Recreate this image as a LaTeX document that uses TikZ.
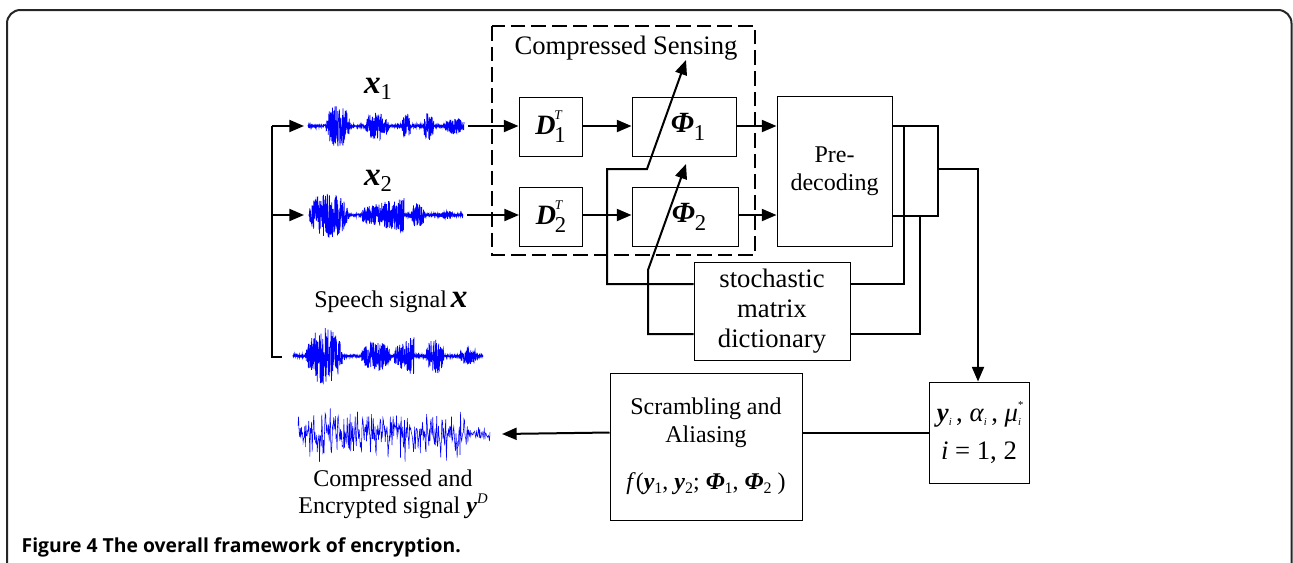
\documentclass[tikz,border=0pt]{standalone}
\usepackage{fontspec}
\setmainfont{Liberation Serif}
\newfontfamily\capfont{Open Sans}
\usetikzlibrary{arrows.meta,calc}
\newcommand\bi[1]{{\bfseries\itshape #1}}
\newcommand\xlab[1]{{\fontsize{25}{25}\selectfont\bfseries\itshape x}\raisebox{-5pt}{\fontsize{17}{17}\selectfont #1}}
\newcommand\Dlab[1]{\raisebox{-4pt}{{\fontsize{21}{21}\selectfont\bfseries\itshape D}\kern-1pt\makebox[0pt][l]{\raisebox{11pt}{\fontsize{10}{10}\selectfont\itshape T}}\raisebox{-6pt}{\fontsize{17}{17}\selectfont #1}}}
\newcommand\Plab[1]{\kern6pt\raisebox{-4pt}{{\fontsize{22}{22}\selectfont\bfseries\itshape Φ}\raisebox{-6pt}{\fontsize{17}{17}\selectfont #1}}}
\newcommand\sub[1]{\raisebox{-3pt}{\fontsize{8}{8}\selectfont\itshape #1}}
\newcommand\dsub[1]{\raisebox{-3pt}{\fontsize{12}{12}\selectfont #1}}
\begin{document}
\begin{tikzpicture}[x=0.75pt,y=-0.75pt,
  conn/.style={line width=1.5pt},
  arr/.style={conn,-{Triangle[length=11pt,width=9pt]}},
  box/.style={draw,line width=0.75pt,inner sep=0pt,align=center},
  wave/.style={blue,line width=0.55pt},
  declare function={B(\vx,\va,\vb)=(\vx>\va)*(\vx<\vb)*sqrt(abs(sin(180*((\vx-\va)/(\vb-\va)))));
    R(\vx,\va,\vb)=(\vx>\va)*(\vx<\vb)*(0.35+0.65*((\vx-\va)/(\vb-\va)));}
]
\useasboundingbox (0,0) rectangle (1293,562);
\pgfmathsetseed{42}
% outer frame
\draw[line width=1.5pt,rounded corners=10pt,black!85] (7,10) rectangle (1291.5,590);

% waveforms
\draw[wave] plot[domain=308:464,samples=900] (\x,{126+(1.2+21*B(\x,326,350)+13*B(\x,365,389)+13*B(\x,402,411)+13*B(\x,423,434)+7*B(\x,444,465))*rand});
\draw[wave] plot[domain=309:463,samples=900] (\x,{215+(1.2+22*B(\x,309,349)+17*R(\x,362,404)+12*B(\x,411,425)+3*B(\x,441,453))*rand});
\draw[wave] plot[domain=293:483,samples=1000] (\x,{356+(1.2+27*B(\x,306,343)+14*B(\x,361,391)+19*R(\x,394,414)+17*B(\x,426,444)+8*B(\x,459,478))*rand});
\draw[wave,line width=0.4pt] plot[domain=298:490,samples=340] (\x,{434+(30*(1-0.7*(\x>468)))*rand*(0.2+0.8*abs(rand))});

% coordinates for free ends
\coordinate (t1) at (272,126);
\coordinate (t2) at (272,215);
\coordinate (t3) at (272,357);
\coordinate (t3e) at (282,357);
\coordinate (w1a) at (304,126);
\coordinate (w2a) at (304,215);
\coordinate (w1b) at (468,126);
\coordinate (w2b) at (467,215);
\coordinate (enc) at (502,434);

% boxes
\node[box,minimum width=47.25pt,minimum height=44.25pt] (d1) at (550.5,126.5) {\Dlab{1}};
\node[box,minimum width=47.25pt,minimum height=44.25pt] (d2) at (551,216.5) {\Dlab{2}};
\node[box,minimum width=78pt,minimum height=44.25pt] (p1) at (684,126.5) {\Plab{1}};
\node[box,minimum width=79.5pt,minimum height=44.25pt] (p2) at (685,216.5) {\Plab{2}};
\node[box,minimum width=86.25pt,minimum height=112.5pt,font=\fontsize{18}{21}\selectfont] (pre) at (834.5,171) {Pre-\\decoding};
\node[box,minimum width=117pt,minimum height=73.5pt,font=\fontsize{20}{22.5}\selectfont] (sto) at (772,311) {stochastic\\matrix\\dictionary};
\node[box,minimum width=75pt,minimum height=75.75pt,font=\fontsize{20}{28}\selectfont] (yb) at (979,432.5)
  {\bi{y}\sub{i}\,, \textit{α}\sub{i}\,, \textit{μ}\makebox[0pt][l]{\raisebox{10pt}{\fontsize{8}{8}\selectfont *}}\sub{i}\\ \textit{i} = 1, 2};
\node[box,minimum width=144pt,minimum height=110.25pt,font=\fontsize{18}{21}\selectfont] (scr) at (706,446.5)
  {Scrambling and\\Aliasing\\[14pt]\textit{f}(\bi{y}\dsub{1}, \bi{y}\dsub{2}; \bi{Φ}\dsub{1}, \bi{Φ}\dsub{2} )};

% compressed sensing frame
\draw[line width=1.5pt,dash pattern=on 11pt off 4.5pt] (492,26) rectangle (755,255);
\node[font=\fontsize{20}{20}\selectfont] (cs) at (626,48) {Compressed Sensing};

% labels
\node (lx1) at (378,89) {\xlab{1}};
\node (lx2) at (378,181) {\xlab{2}};
\node (lsp) at (391,302) {\fontsize{18}{18}\selectfont Speech signal\,{\fontsize{25}{25}\selectfont\bfseries\itshape x}};
\node[align=center,font=\fontsize{18}{20}\selectfont] (lenc) at (393,494) {Compressed and\\Encrypted signal \bi{y}\raisebox{7pt}{\fontsize{11}{11}\selectfont\itshape D}};
\node[anchor=west,font=\capfont\bfseries\fontsize{14.5}{14.5}\selectfont] (cap) at (17,547) {Figure 4 The overall framework of encryption.};

% connectors
\draw[conn] (t1) -- (t3) -- (t3e);
\draw[arr] (t1) -- (w1a);
\draw[arr] (t2) -- (w2a);
\draw[arr] (w1b) -- (d1.west |- w1b);
\draw[arr] (w2b) -- (d2.west |- w2b);
\draw[arr] (d1.east |- w1b) -- (p1.west |- w1b);
\draw[arr] (d2.east |- w2b) -- (p2.west |- w2b);
\draw[arr] (p1.east |- w1b) -- (pre.west |- w1b);
\draw[arr] (p2.east |- w2b) -- (pre.west |- w2b);
\coordinate (o1) at (938,126);
\coordinate (o2) at (938,216);
\coordinate (o3) at (938,169);
\coordinate (o4) at (978,169);
\draw[conn] (pre.east |- o1) -- (o1) -- (o2) -- (pre.east |- o2);
\draw[arr] (o3) -- (o4) -- (yb.north -| o4);
\coordinate (v1) at (904,126);
\coordinate (v1b) at (904,284);
\coordinate (v2) at (920,216);
\coordinate (v2b) at (920,334);
\draw[conn] (v1) -- (v1b) -- (sto.east |- v1b);
\draw[conn] (v2) -- (v2b) -- (sto.east |- v2b);
\coordinate (k1) at (607,284);
\coordinate (k1b) at (607,169);
\coordinate (k1c) at (647,169);
\coordinate (k1d) at (686,60);
\draw[arr] (sto.west |- k1) -- (k1) -- (k1b) -- (k1c) -- (k1d);
\coordinate (k2) at (648,334);
\coordinate (k2b) at (648,270);
\coordinate (k2d) at (686,164);
\draw[arr] (sto.west |- k2) -- (k2) -- (k2b) -- (k2d);
\draw[conn] (yb.west) -- (scr.east |- yb.west);
\draw[arr] (scr.west |- yb.west) -- (enc);
\end{tikzpicture}
\end{document}
